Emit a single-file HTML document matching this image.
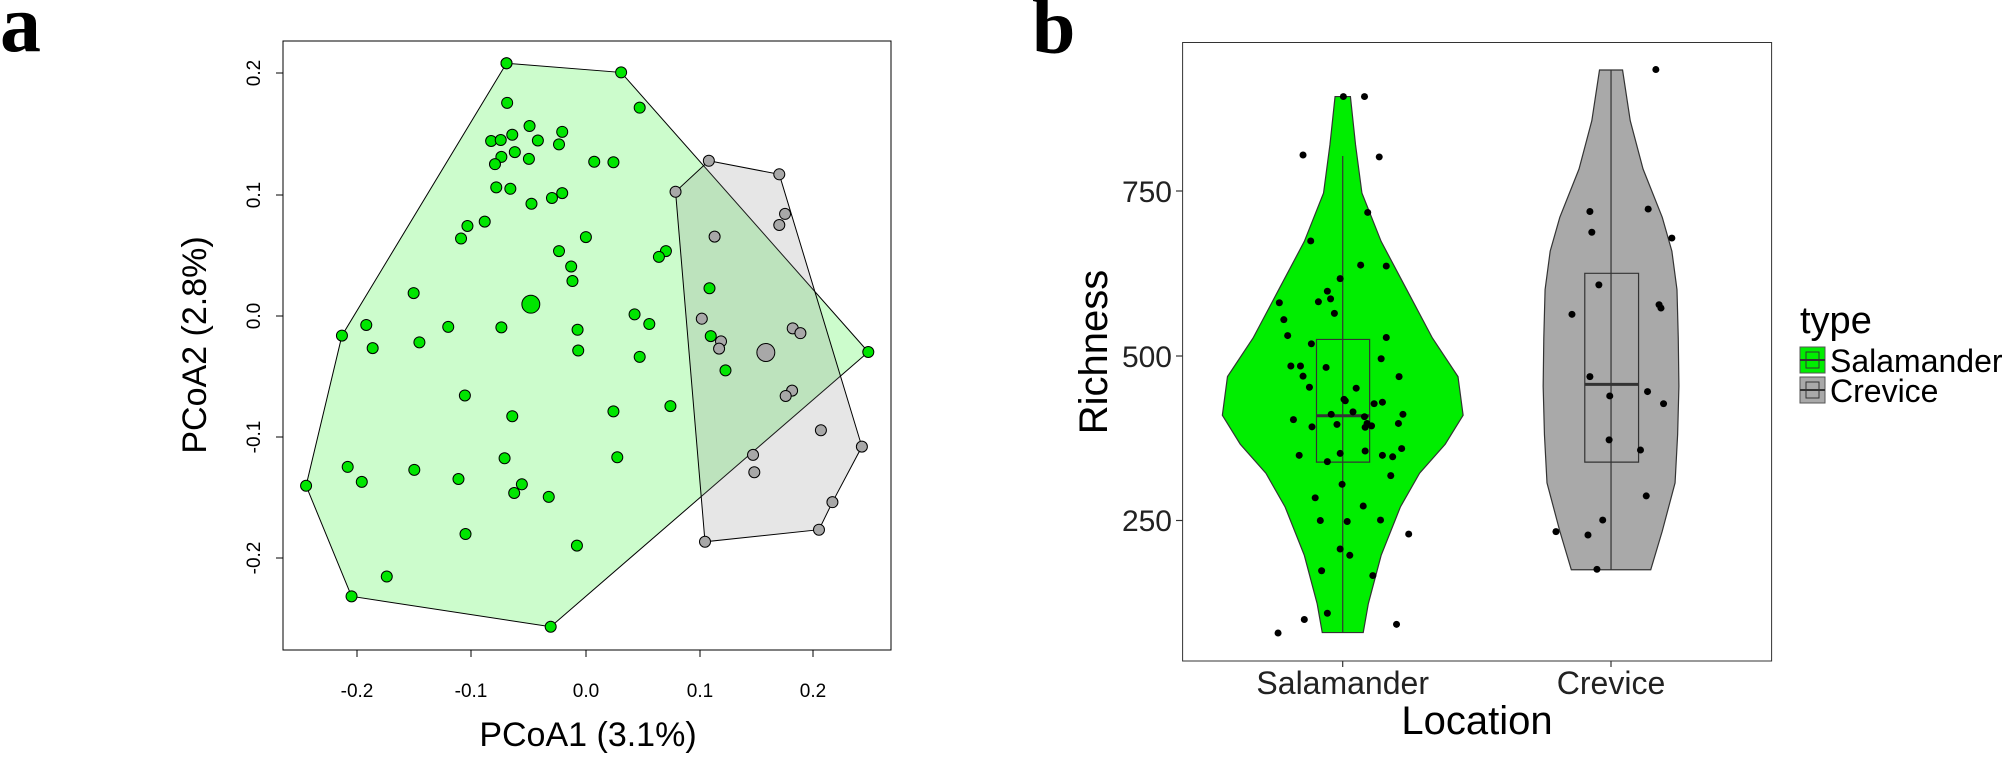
<!DOCTYPE html>
<html><head><meta charset="utf-8"><style>body{margin:0;background:#fff}svg{display:block}</style></head><body>
<svg width="2008" height="757" viewBox="0 0 2008 757" xmlns="http://www.w3.org/2000/svg" font-family="Liberation Sans, sans-serif">
<rect width="2008" height="757" fill="#fff"/>
<text x="0" y="51" font-family="Liberation Serif, serif" font-weight="bold" font-size="82">a</text>
<text x="1032" y="53" font-family="Liberation Serif, serif" font-weight="bold" font-size="78">b</text>
<g transform="scale(0.64033,0.48286)">
<g stroke="#000" stroke-width="1" vector-effect="non-scaling-stroke">
<polygon points="791,131 970,150 1356,729 860,1298 549,1235 478,1006 534,695" fill="#00ee00" fill-opacity="0.2" vector-effect="non-scaling-stroke"/>
<polygon points="1107,333 1217,361 1346,925 1300,1040 1279,1097 1101,1122 1055,397" fill="#808080" fill-opacity="0.2" vector-effect="non-scaling-stroke"/>
</g>
<g fill="#00e600" stroke="#000" stroke-width="1">
<ellipse cx="791" cy="131" rx="8.6" ry="11.4" vector-effect="non-scaling-stroke"/>
</g>
</g>
<g id="pa"></g>
<g transform="scale(0.64033,0.48286)" fill="#00e600" stroke="#000">
<g id="gp"></g>
</g>
<rect x="283" y="41" width="608" height="609" fill="none" stroke="#000" stroke-width="1"/>
<g stroke="#000" stroke-width="1">
<line x1="357" y1="650" x2="813" y2="650"/>
<line x1="357" y1="650" x2="357" y2="657"/><line x1="471" y1="650" x2="471" y2="657"/><line x1="586" y1="650" x2="586" y2="657"/><line x1="700" y1="650" x2="700" y2="657"/><line x1="813" y1="650" x2="813" y2="657"/>
<line x1="283" y1="73" x2="276" y2="73"/><line x1="283" y1="195" x2="276" y2="195"/><line x1="283" y1="316" x2="276" y2="316"/><line x1="283" y1="437" x2="276" y2="437"/><line x1="283" y1="558" x2="276" y2="558"/>
</g>
<g font-size="19" text-anchor="middle" fill="#000">
<text x="357" y="697">-0.2</text><text x="471" y="697">-0.1</text><text x="586" y="697">0.0</text><text x="700" y="697">0.1</text><text x="813" y="697">0.2</text>
<text transform="translate(260,73) rotate(-90)">0.2</text>
<text transform="translate(260,195) rotate(-90)">0.1</text>
<text transform="translate(260,316) rotate(-90)">0.0</text>
<text transform="translate(260,437) rotate(-90)">-0.1</text>
<text transform="translate(260,558) rotate(-90)">-0.2</text>
</g>
<text x="588" y="746" font-size="34" text-anchor="middle">PCoA1 (3.1%)</text>
<text transform="translate(206,345) rotate(-90)" font-size="34" text-anchor="middle">PCoA2 (2.8%)</text>

<!-- panel a points -->
<g transform="scale(0.64033,0.48286)" stroke="#000" stroke-width="1">
<g fill="#00e600">
<ellipse cx="791" cy="131" rx="8.6" ry="11.4" vector-effect="non-scaling-stroke"/><ellipse cx="970" cy="150" rx="8.6" ry="11.4" vector-effect="non-scaling-stroke"/><ellipse cx="999" cy="223" rx="8.6" ry="11.4" vector-effect="non-scaling-stroke"/><ellipse cx="792" cy="213" rx="8.6" ry="11.4" vector-effect="non-scaling-stroke"/><ellipse cx="827" cy="261" rx="8.6" ry="11.4" vector-effect="non-scaling-stroke"/><ellipse cx="878" cy="273" rx="8.6" ry="11.4" vector-effect="non-scaling-stroke"/><ellipse cx="800" cy="279" rx="8.6" ry="11.4" vector-effect="non-scaling-stroke"/><ellipse cx="767" cy="292" rx="8.6" ry="11.4" vector-effect="non-scaling-stroke"/><ellipse cx="782" cy="290" rx="8.6" ry="11.4" vector-effect="non-scaling-stroke"/><ellipse cx="840" cy="291" rx="8.6" ry="11.4" vector-effect="non-scaling-stroke"/><ellipse cx="873" cy="299" rx="8.6" ry="11.4" vector-effect="non-scaling-stroke"/><ellipse cx="804" cy="315" rx="8.6" ry="11.4" vector-effect="non-scaling-stroke"/><ellipse cx="783" cy="325" rx="8.6" ry="11.4" vector-effect="non-scaling-stroke"/><ellipse cx="826" cy="329" rx="8.6" ry="11.4" vector-effect="non-scaling-stroke"/><ellipse cx="773" cy="340" rx="8.6" ry="11.4" vector-effect="non-scaling-stroke"/><ellipse cx="928" cy="335" rx="8.6" ry="11.4" vector-effect="non-scaling-stroke"/><ellipse cx="958" cy="336" rx="8.6" ry="11.4" vector-effect="non-scaling-stroke"/><ellipse cx="775" cy="388" rx="8.6" ry="11.4" vector-effect="non-scaling-stroke"/><ellipse cx="797" cy="391" rx="8.6" ry="11.4" vector-effect="non-scaling-stroke"/><ellipse cx="830" cy="422" rx="8.6" ry="11.4" vector-effect="non-scaling-stroke"/><ellipse cx="862" cy="410" rx="8.6" ry="11.4" vector-effect="non-scaling-stroke"/><ellipse cx="878" cy="400" rx="8.6" ry="11.4" vector-effect="non-scaling-stroke"/><ellipse cx="757" cy="459" rx="8.6" ry="11.4" vector-effect="non-scaling-stroke"/><ellipse cx="730" cy="468" rx="8.6" ry="11.4" vector-effect="non-scaling-stroke"/><ellipse cx="720" cy="494" rx="8.6" ry="11.4" vector-effect="non-scaling-stroke"/><ellipse cx="915" cy="491" rx="8.6" ry="11.4" vector-effect="non-scaling-stroke"/><ellipse cx="873" cy="520" rx="8.6" ry="11.4" vector-effect="non-scaling-stroke"/><ellipse cx="1040" cy="520" rx="8.6" ry="11.4" vector-effect="non-scaling-stroke"/><ellipse cx="1029" cy="532" rx="8.6" ry="11.4" vector-effect="non-scaling-stroke"/><ellipse cx="892" cy="552" rx="8.6" ry="11.4" vector-effect="non-scaling-stroke"/><ellipse cx="894" cy="582" rx="8.6" ry="11.4" vector-effect="non-scaling-stroke"/><ellipse cx="646" cy="607" rx="8.6" ry="11.4" vector-effect="non-scaling-stroke"/><ellipse cx="1108" cy="597" rx="8.6" ry="11.4" vector-effect="non-scaling-stroke"/><ellipse cx="829" cy="630" rx="14" ry="18.6" vector-effect="non-scaling-stroke"/><ellipse cx="572" cy="673" rx="8.6" ry="11.4" vector-effect="non-scaling-stroke"/><ellipse cx="534" cy="695" rx="8.6" ry="11.4" vector-effect="non-scaling-stroke"/><ellipse cx="700" cy="677" rx="8.6" ry="11.4" vector-effect="non-scaling-stroke"/><ellipse cx="783" cy="678" rx="8.6" ry="11.4" vector-effect="non-scaling-stroke"/><ellipse cx="991" cy="651" rx="8.6" ry="11.4" vector-effect="non-scaling-stroke"/><ellipse cx="1014" cy="671" rx="8.6" ry="11.4" vector-effect="non-scaling-stroke"/><ellipse cx="902" cy="683" rx="8.6" ry="11.4" vector-effect="non-scaling-stroke"/><ellipse cx="655" cy="709" rx="8.6" ry="11.4" vector-effect="non-scaling-stroke"/><ellipse cx="582" cy="721" rx="8.6" ry="11.4" vector-effect="non-scaling-stroke"/><ellipse cx="903" cy="726" rx="8.6" ry="11.4" vector-effect="non-scaling-stroke"/><ellipse cx="999" cy="739" rx="8.6" ry="11.4" vector-effect="non-scaling-stroke"/><ellipse cx="1110" cy="696" rx="8.6" ry="11.4" vector-effect="non-scaling-stroke"/><ellipse cx="1133" cy="767" rx="8.6" ry="11.4" vector-effect="non-scaling-stroke"/><ellipse cx="1356" cy="729" rx="8.6" ry="11.4" vector-effect="non-scaling-stroke"/><ellipse cx="726" cy="819" rx="8.6" ry="11.4" vector-effect="non-scaling-stroke"/><ellipse cx="1047" cy="841" rx="8.6" ry="11.4" vector-effect="non-scaling-stroke"/><ellipse cx="800" cy="862" rx="8.6" ry="11.4" vector-effect="non-scaling-stroke"/><ellipse cx="958" cy="852" rx="8.6" ry="11.4" vector-effect="non-scaling-stroke"/><ellipse cx="788" cy="949" rx="8.6" ry="11.4" vector-effect="non-scaling-stroke"/><ellipse cx="964" cy="947" rx="8.6" ry="11.4" vector-effect="non-scaling-stroke"/><ellipse cx="543" cy="967" rx="8.6" ry="11.4" vector-effect="non-scaling-stroke"/><ellipse cx="647" cy="973" rx="8.6" ry="11.4" vector-effect="non-scaling-stroke"/><ellipse cx="565" cy="998" rx="8.6" ry="11.4" vector-effect="non-scaling-stroke"/><ellipse cx="716" cy="992" rx="8.6" ry="11.4" vector-effect="non-scaling-stroke"/><ellipse cx="815" cy="1003" rx="8.6" ry="11.4" vector-effect="non-scaling-stroke"/><ellipse cx="803" cy="1021" rx="8.6" ry="11.4" vector-effect="non-scaling-stroke"/><ellipse cx="857" cy="1029" rx="8.6" ry="11.4" vector-effect="non-scaling-stroke"/><ellipse cx="478" cy="1006" rx="8.6" ry="11.4" vector-effect="non-scaling-stroke"/><ellipse cx="727" cy="1106" rx="8.6" ry="11.4" vector-effect="non-scaling-stroke"/><ellipse cx="901" cy="1130" rx="8.6" ry="11.4" vector-effect="non-scaling-stroke"/><ellipse cx="604" cy="1194" rx="8.6" ry="11.4" vector-effect="non-scaling-stroke"/><ellipse cx="549" cy="1235" rx="8.6" ry="11.4" vector-effect="non-scaling-stroke"/><ellipse cx="860" cy="1298" rx="8.6" ry="11.4" vector-effect="non-scaling-stroke"/>
</g>
<g fill="#a8a8a8">
<ellipse cx="1107" cy="333" rx="8.6" ry="11.4" vector-effect="non-scaling-stroke"/><ellipse cx="1217" cy="361" rx="8.6" ry="11.4" vector-effect="non-scaling-stroke"/><ellipse cx="1055" cy="397" rx="8.6" ry="11.4" vector-effect="non-scaling-stroke"/><ellipse cx="1226" cy="443" rx="8.6" ry="11.4" vector-effect="non-scaling-stroke"/><ellipse cx="1217" cy="466" rx="8.6" ry="11.4" vector-effect="non-scaling-stroke"/><ellipse cx="1116" cy="490" rx="8.6" ry="11.4" vector-effect="non-scaling-stroke"/><ellipse cx="1096" cy="660" rx="8.6" ry="11.4" vector-effect="non-scaling-stroke"/><ellipse cx="1238" cy="680" rx="8.6" ry="11.4" vector-effect="non-scaling-stroke"/><ellipse cx="1250" cy="690" rx="8.6" ry="11.4" vector-effect="non-scaling-stroke"/><ellipse cx="1126" cy="707" rx="8.6" ry="11.4" vector-effect="non-scaling-stroke"/><ellipse cx="1123" cy="722" rx="8.6" ry="11.4" vector-effect="non-scaling-stroke"/><ellipse cx="1196" cy="730" rx="14" ry="18.6" vector-effect="non-scaling-stroke"/><ellipse cx="1237" cy="809" rx="8.6" ry="11.4" vector-effect="non-scaling-stroke"/><ellipse cx="1227" cy="820" rx="8.6" ry="11.4" vector-effect="non-scaling-stroke"/><ellipse cx="1282" cy="891" rx="8.6" ry="11.4" vector-effect="non-scaling-stroke"/><ellipse cx="1346" cy="925" rx="8.6" ry="11.4" vector-effect="non-scaling-stroke"/><ellipse cx="1176" cy="942" rx="8.6" ry="11.4" vector-effect="non-scaling-stroke"/><ellipse cx="1178" cy="978" rx="8.6" ry="11.4" vector-effect="non-scaling-stroke"/><ellipse cx="1300" cy="1040" rx="8.6" ry="11.4" vector-effect="non-scaling-stroke"/><ellipse cx="1279" cy="1097" rx="8.6" ry="11.4" vector-effect="non-scaling-stroke"/><ellipse cx="1101" cy="1122" rx="8.6" ry="11.4" vector-effect="non-scaling-stroke"/>
</g>
</g>

<!-- panel b -->
<rect x="1182.6" y="42.5" width="589" height="618.5" fill="#fff" stroke="#333" stroke-width="1"/>
<g transform="translate(1004,0) scale(0.64033,0.48286)">
<polygon vector-effect="non-scaling-stroke" fill="#00ee00" stroke="#333" stroke-width="1.2" points="541,200 549,300 559,400 589,500 629,600 669,700 709,780 717,860 689,920 649,980 619,1050 589,1150 569,1250 561,1310 497,1310 489,1250 469,1150 439,1050 409,980 369,920 341,860 349,780 389,700 429,600 469,500 499,400 509,300 517,200"/>
<polygon vector-effect="non-scaling-stroke" fill="#a9a9a9" stroke="#333" stroke-width="1.2" points="966,145 978,250 998,350 1028,450 1043,520 1051,600 1053,700 1054,800 1052,900 1048,1000 1028,1100 1010,1180 886,1180 868,1100 848,1000 844,900 842,800 843,700 845,600 853,520 868,450 898,350 918,250 930,145"/>
<g stroke="#333" stroke-width="1.2" fill="none">
<line x1="529" y1="323" x2="529" y2="1310" vector-effect="non-scaling-stroke"/>
<rect x="488" y="703" width="83" height="254" vector-effect="non-scaling-stroke"/>
<line x1="488" y1="861" x2="571" y2="861" stroke-width="3" vector-effect="non-scaling-stroke"/>
<line x1="948" y1="145" x2="948" y2="1180" vector-effect="non-scaling-stroke"/>
<rect x="907" y="566" width="84" height="391" vector-effect="non-scaling-stroke"/>
<line x1="907" y1="796" x2="991" y2="796" stroke-width="3" vector-effect="non-scaling-stroke"/>
</g>
<g fill="#000">
<ellipse cx="530" cy="200" rx="5.5" ry="7.2"/><ellipse cx="563" cy="200" rx="5.5" ry="7.2"/><ellipse cx="467" cy="321" rx="5.5" ry="7.2"/><ellipse cx="586" cy="325" rx="5.5" ry="7.2"/><ellipse cx="568" cy="440" rx="5.5" ry="7.2"/><ellipse cx="479" cy="499" rx="5.5" ry="7.2"/><ellipse cx="557" cy="549" rx="5.5" ry="7.2"/><ellipse cx="597" cy="551" rx="5.5" ry="7.2"/><ellipse cx="525" cy="577" rx="5.5" ry="7.2"/><ellipse cx="505" cy="603" rx="5.5" ry="7.2"/><ellipse cx="491" cy="625" rx="5.5" ry="7.2"/><ellipse cx="510" cy="619" rx="5.5" ry="7.2"/><ellipse cx="430" cy="627" rx="5.5" ry="7.2"/><ellipse cx="516" cy="649" rx="5.5" ry="7.2"/><ellipse cx="437" cy="662" rx="5.5" ry="7.2"/><ellipse cx="443" cy="695" rx="5.5" ry="7.2"/><ellipse cx="597" cy="699" rx="5.5" ry="7.2"/><ellipse cx="480" cy="712" rx="5.5" ry="7.2"/><ellipse cx="589" cy="743" rx="5.5" ry="7.2"/><ellipse cx="448" cy="758" rx="5.5" ry="7.2"/><ellipse cx="463" cy="758" rx="5.5" ry="7.2"/><ellipse cx="503" cy="761" rx="5.5" ry="7.2"/><ellipse cx="467" cy="779" rx="5.5" ry="7.2"/><ellipse cx="617" cy="780" rx="5.5" ry="7.2"/><ellipse cx="477" cy="802" rx="5.5" ry="7.2"/><ellipse cx="550" cy="804" rx="5.5" ry="7.2"/><ellipse cx="531" cy="827" rx="5.5" ry="7.2"/><ellipse cx="533" cy="830" rx="5.5" ry="7.2"/><ellipse cx="578" cy="836" rx="5.5" ry="7.2"/><ellipse cx="591" cy="833" rx="5.5" ry="7.2"/><ellipse cx="545" cy="853" rx="5.5" ry="7.2"/><ellipse cx="511" cy="858" rx="5.5" ry="7.2"/><ellipse cx="563" cy="863" rx="5.5" ry="7.2"/><ellipse cx="623" cy="858" rx="5.5" ry="7.2"/><ellipse cx="452" cy="869" rx="5.5" ry="7.2"/><ellipse cx="567" cy="877" rx="5.5" ry="7.2"/><ellipse cx="574" cy="882" rx="5.5" ry="7.2"/><ellipse cx="520" cy="879" rx="5.5" ry="7.2"/><ellipse cx="616" cy="877" rx="5.5" ry="7.2"/><ellipse cx="481" cy="884" rx="5.5" ry="7.2"/><ellipse cx="564" cy="885" rx="5.5" ry="7.2"/><ellipse cx="621" cy="929" rx="5.5" ry="7.2"/><ellipse cx="461" cy="943" rx="5.5" ry="7.2"/><ellipse cx="525" cy="939" rx="5.5" ry="7.2"/><ellipse cx="591" cy="943" rx="5.5" ry="7.2"/><ellipse cx="607" cy="946" rx="5.5" ry="7.2"/><ellipse cx="505" cy="956" rx="5.5" ry="7.2"/><ellipse cx="564" cy="934" rx="5.5" ry="7.2"/><ellipse cx="604" cy="985" rx="5.5" ry="7.2"/><ellipse cx="528" cy="1003" rx="5.5" ry="7.2"/><ellipse cx="486" cy="1031" rx="5.5" ry="7.2"/><ellipse cx="561" cy="1048" rx="5.5" ry="7.2"/><ellipse cx="494" cy="1078" rx="5.5" ry="7.2"/><ellipse cx="536" cy="1080" rx="5.5" ry="7.2"/><ellipse cx="588" cy="1077" rx="5.5" ry="7.2"/><ellipse cx="632" cy="1106" rx="5.5" ry="7.2"/><ellipse cx="525" cy="1137" rx="5.5" ry="7.2"/><ellipse cx="540" cy="1150" rx="5.5" ry="7.2"/><ellipse cx="496" cy="1182" rx="5.5" ry="7.2"/><ellipse cx="576" cy="1192" rx="5.5" ry="7.2"/><ellipse cx="505" cy="1270" rx="5.5" ry="7.2"/><ellipse cx="469" cy="1283" rx="5.5" ry="7.2"/><ellipse cx="613" cy="1293" rx="5.5" ry="7.2"/><ellipse cx="428" cy="1311" rx="5.5" ry="7.2"/>
<ellipse cx="1018" cy="144" rx="5.5" ry="7.2"/><ellipse cx="915" cy="438" rx="5.5" ry="7.2"/><ellipse cx="1006" cy="433" rx="5.5" ry="7.2"/><ellipse cx="918" cy="481" rx="5.5" ry="7.2"/><ellipse cx="1043" cy="493" rx="5.5" ry="7.2"/><ellipse cx="929" cy="590" rx="5.5" ry="7.2"/><ellipse cx="887" cy="651" rx="5.5" ry="7.2"/><ellipse cx="1023" cy="631" rx="5.5" ry="7.2"/><ellipse cx="1026" cy="638" rx="5.5" ry="7.2"/><ellipse cx="915" cy="780" rx="5.5" ry="7.2"/><ellipse cx="1005" cy="811" rx="5.5" ry="7.2"/><ellipse cx="946" cy="820" rx="5.5" ry="7.2"/><ellipse cx="1030" cy="836" rx="5.5" ry="7.2"/><ellipse cx="945" cy="911" rx="5.5" ry="7.2"/><ellipse cx="994" cy="932" rx="5.5" ry="7.2"/><ellipse cx="1003" cy="1027" rx="5.5" ry="7.2"/><ellipse cx="935" cy="1077" rx="5.5" ry="7.2"/><ellipse cx="862" cy="1101" rx="5.5" ry="7.2"/><ellipse cx="912" cy="1108" rx="5.5" ry="7.2"/><ellipse cx="926" cy="1179" rx="5.5" ry="7.2"/>
</g>
</g>
<g stroke="#333" stroke-width="1.2">
<line x1="1176" y1="191" x2="1182.6" y2="191"/><line x1="1176" y1="356" x2="1182.6" y2="356"/><line x1="1176" y1="520.5" x2="1182.6" y2="520.5"/>
<line x1="1342.7" y1="661" x2="1342.7" y2="667"/><line x1="1611" y1="661" x2="1611" y2="667"/>
</g>
<g font-size="30" fill="#222" text-anchor="end">
<text x="1172" y="202">750</text><text x="1172" y="367">500</text><text x="1172" y="531">250</text>
</g>
<g font-size="32" fill="#222" text-anchor="middle">
<text x="1342.7" y="694">Salamander</text><text x="1611" y="694">Crevice</text>
</g>
<text x="1477" y="734" font-size="40" text-anchor="middle">Location</text>
<text transform="translate(1107,352) rotate(-90)" font-size="40" text-anchor="middle">Richness</text>
<text x="1800" y="333" font-size="38">type</text>
<rect x="1800" y="347" width="25" height="26" fill="#00ee00" stroke="#555"/>
<line x1="1800" y1="360" x2="1825" y2="360" stroke="#333" stroke-width="2"/>
<rect x="1806" y="352" width="13" height="16" fill="none" stroke="#333"/>
<rect x="1800" y="377" width="25" height="26" fill="#a9a9a9" stroke="#555"/>
<line x1="1800" y1="390" x2="1825" y2="390" stroke="#333" stroke-width="2"/>
<rect x="1806" y="382" width="13" height="16" fill="none" stroke="#333"/>
<text x="1830" y="372" font-size="32">Salamander</text>
<text x="1830" y="402" font-size="32">Crevice</text>
</svg>
</body></html>
